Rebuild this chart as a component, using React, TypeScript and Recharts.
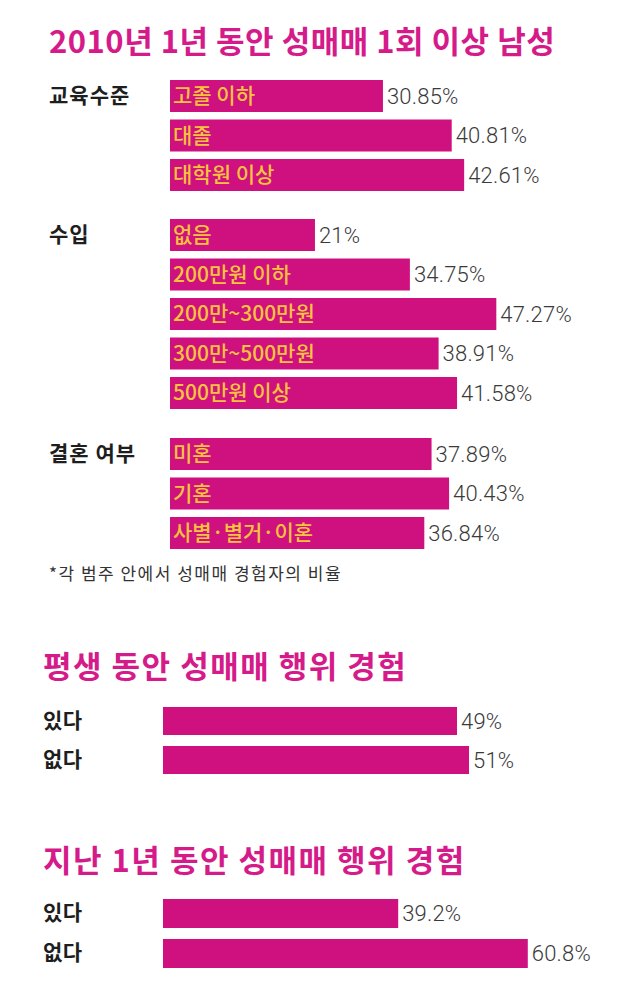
import { BarChart, Bar, XAxis, YAxis, LabelList } from 'recharts';

const eduCategories = ['고졸 이하', '대졸', '대학원 이상'];
const eduValues = [30.85, 40.81, 42.61];

const incomeCategories = ['없음', '200만원 이하', '200만~300만원', '300만~500만원', '500만원 이상'];
const incomeValues = [21, 34.75, 47.27, 38.91, 41.58];

const marriageCategories = ['미혼', '기혼', '사별·별거·이혼'];
const marriageValues = [37.89, 40.43, 36.84];

const lifetimeCategories = ['있다', '없다'];
const lifetimeValues = [49, 51];

const lastYearCategories = ['있다', '없다'];
const lastYearValues = [39.2, 60.8];

const PINK = '#cf1180';
const TITLE_PINK = '#d51b8a';
const KR = "'Noto Sans CJK KR', sans-serif";

const toRows = (categories: string[], values: number[]) =>
  categories.map((name, i) => ({ name, value: values[i] }));

type GroupProps = {
  rows: { name: string; value: number }[];
  top: number;
  left: number;
  width: number;
  height: number;
  max: number;
  barSize: number;
  axisWidth?: number;
};

function Group({ rows, top, left, width, height, max, barSize, axisWidth = 0 }: GroupProps) {
  const withAxis = axisWidth > 0;
  return (
    <div style={{ position: 'absolute', top, left }}>
      <BarChart
        layout="vertical"
        width={width}
        height={height}
        data={rows}
        margin={{ top: 0, right: 0, bottom: 0, left: 0 }}
      >
        <XAxis type="number" domain={[0, max]} allowDataOverflow hide />
        <YAxis
          type="category"
          dataKey="name"
          hide={!withAxis}
          width={axisWidth}
          axisLine={false}
          tickLine={false}
          tick={({ y, payload }: any) => (
            <text
              x={0}
              y={y}
              dy={7}
              fill="#1e1e1e"
              fontSize={21}
              fontWeight={700}
              fontFamily={KR}
              style={{ letterSpacing: '0.5px' }}
            >
              {payload.value}
            </text>
          )}
        />
        <Bar dataKey="value" fill={PINK} barSize={barSize} isAnimationActive={false}>
          {!withAxis && (
            <LabelList
              dataKey="name"
              position="insideLeft"
              offset={3}
              fill="#f8c33c"
              fontSize={21}
              fontWeight={500}
              fontFamily={KR}
            />
          )}
          <LabelList
            dataKey="value"
            position="right"
            offset={4}
            formatter={(v: any) => `${v}%`}
            fill="#3a3a3a"
            fontSize={22}
            fontWeight={300}
            fontFamily="Roboto, sans-serif"
            style={{ letterSpacing: '0.2px' }}
          />
        </Bar>
      </BarChart>
    </div>
  );
}

const titleStyle = (top: number, left: number, spacing = 1.5): React.CSSProperties => ({
  position: 'absolute',
  top,
  left,
  fontFamily: KR,
  fontSize: 31,
  lineHeight: '31px',
  fontWeight: 700,
  color: TITLE_PINK,
  whiteSpace: 'nowrap',
  letterSpacing: `${spacing}px`,
});

const groupLabelStyle = (top: number): React.CSSProperties => ({
  position: 'absolute',
  top,
  left: 49,
  fontFamily: KR,
  fontSize: 21,
  lineHeight: '21px',
  fontWeight: 700,
  color: '#1e1e1e',
  whiteSpace: 'nowrap',
  letterSpacing: '1px',
});

export default function App() {
  return (
    <div
      style={{
        position: 'absolute',
        top: 0,
        left: 0,
        width: 639,
        height: 999,
        background: '#ffffff',
        overflow: 'hidden',
      }}
    >
      <div style={titleStyle(24, 49, 0.5)}>2010년 1년 동안 성매매 1회 이상 남성</div>

      <div style={groupLabelStyle(84)}>교육수준</div>
      <Group rows={toRows(eduCategories, eduValues)} top={75.5} left={170} width={428} height={118.5} max={62} barSize={32} />

      <div style={groupLabelStyle(223)}>수입</div>
      <Group rows={toRows(incomeCategories, incomeValues)} top={214.5} left={170} width={428} height={197.5} max={62} barSize={32} />

      <div style={groupLabelStyle(442)}>결혼 여부</div>
      <Group rows={toRows(marriageCategories, marriageValues)} top={433.5} left={170} width={428} height={118.5} max={62} barSize={32} />

      <div
        style={{
          position: 'absolute',
          top: 564,
          left: 49,
          fontFamily: KR,
          fontSize: 17,
          lineHeight: '18px',
          color: '#333333',
          whiteSpace: 'nowrap',
          letterSpacing: '1.5px',
        }}
      >
        *각 범주 안에서 성매매 경험자의 비율
      </div>

      <div style={titleStyle(649, 43)}>평생 동안 성매매 행위 경험</div>
      <Group rows={toRows(lifetimeCategories, lifetimeValues)} top={700.5} left={43} width={570} height={78} max={75} barSize={28} axisWidth={120} />

      <div style={titleStyle(843, 43)}>지난 1년 동안 성매매 행위 경험</div>
      <Group rows={toRows(lastYearCategories, lastYearValues)} top={892.5} left={43} width={570} height={80} max={75} barSize={29} axisWidth={120} />
    </div>
  );
}
